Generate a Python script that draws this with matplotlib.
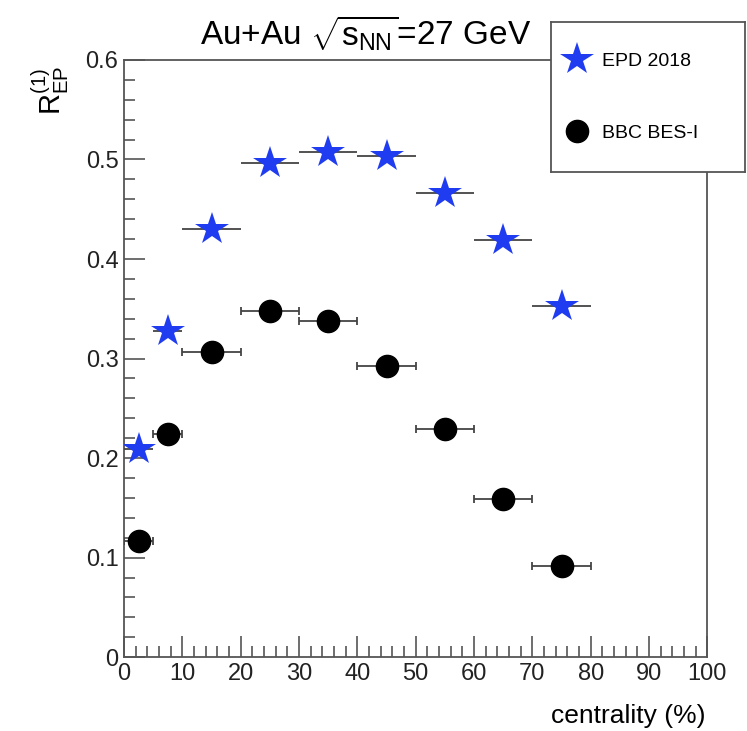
import numpy as np
import matplotlib
matplotlib.use("Agg")
import matplotlib.pyplot as plt
from matplotlib.ticker import MultipleLocator, FuncFormatter
from matplotlib.lines import Line2D

plt.rcParams['font.family'] = ['Liberation Sans', 'DejaVu Sans']
plt.rcParams['mathtext.fontset'] = 'custom'
plt.rcParams['mathtext.rm'] = 'Liberation Sans'
plt.rcParams['mathtext.it'] = 'Liberation Sans'

# centrality bins
cent = [2.5, 7.5, 15, 25, 35, 45, 55, 65, 75]
cent_err = [2.5, 2.5, 5, 5, 5, 5, 5, 5, 5]

epd_2018 = [0.209, 0.328, 0.430, 0.496, 0.508, 0.503, 0.466, 0.419, 0.353]
bbc_bes1 = [0.117, 0.224, 0.307, 0.348, 0.338, 0.293, 0.229, 0.159, 0.092]

star_col = '#1f3cf0'

fig = plt.figure(figsize=(7.47, 7.31), dpi=100)
ax = fig.add_axes([0.166, 0.101, 0.781, 0.817])

ax.errorbar(cent, bbc_bes1, xerr=cent_err, fmt='o', color='black', ms=16,
            ecolor='#444444', elinewidth=1.3, capsize=3, capthick=1.3, zorder=3)
ax.errorbar(cent, epd_2018, xerr=cent_err, fmt='*', color=star_col, ms=25,
            mew=0, ecolor='#444444', elinewidth=1.3, capsize=3, capthick=1.3,
            zorder=4)

ax.set_xlim(0, 100)
ax.set_ylim(0, 0.6)
ax.xaxis.set_major_locator(MultipleLocator(10))
ax.xaxis.set_minor_locator(MultipleLocator(2))
ax.yaxis.set_major_locator(MultipleLocator(0.1))
ax.yaxis.set_minor_locator(MultipleLocator(0.02))
ax.yaxis.set_major_formatter(FuncFormatter(lambda v, p: '0' if abs(v) < 1e-9 else '%.1f' % v))
ax.tick_params(which='both', direction='in', top=False, right=False,
               colors='#555555', labelcolor='#222222', labelsize=17, width=1.2)
ax.tick_params(which='major', length=15, pad=4)
ax.tick_params(which='minor', length=8)
for s in ax.spines.values():
    s.set_color('#555555')
    s.set_linewidth(1.3)

fig.text(0.49, 0.955, r'Au+Au $\sqrt{s_{\rm NN}}$=27 GeV', ha='center', va='center', fontsize=24)
fig.text(0.068, 0.91, r'$\rm R_{EP}^{(1)}$', rotation=90, ha='center', va='top', fontsize=21)
fig.text(0.945, 0.004, 'centrality (%)', ha='right', va='bottom', fontsize=19)

# legend box
lax = fig.add_axes([551 / 747, 1 - 172 / 731, 194 / 747, 150 / 731])
lax.set_xticks([])
lax.set_yticks([])
for s in lax.spines.values():
    s.set_color('#555555')
    s.set_linewidth(1.3)
handles = [Line2D([], [], ls='', marker='*', ms=25, mew=0, color=star_col),
           Line2D([], [], ls='', marker='o', ms=16, color='black')]
lax.legend(handles, ['EPD 2018', 'BBC BES-I'], loc='center left', frameon=False,
           fontsize=14, labelspacing=2.8, borderaxespad=0.2,
           handletextpad=0.5, handlelength=1.5)

fig.savefig('out.png', dpi=100)
